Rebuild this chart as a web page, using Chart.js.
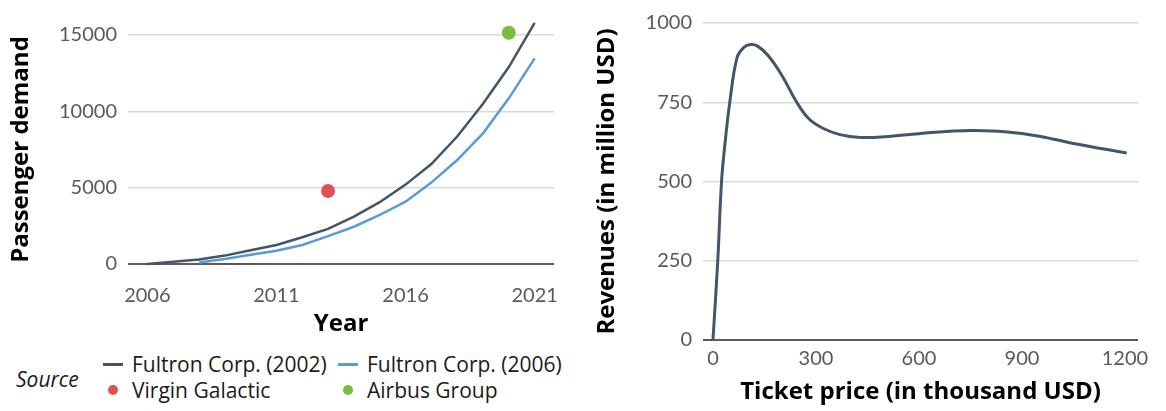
<!DOCTYPE html>
<html>
<head>
<meta charset="utf-8">
<script src="https://cdn.jsdelivr.net/npm/chart.js@4.4.1/dist/chart.umd.min.js"></script>
<style>
    body { margin: 0; background: #fff; font-family: "Open Sans", sans-serif; }
    #wrap { position: relative; width: 1166px; height: 411px; overflow: hidden; }
    #demand-chart { position: absolute; left: 0; top: 0; }
    #revenue-chart { position: absolute; left: 580px; top: 0; }
    #source { position: absolute; left: 16px; top: 366px; font-size: 21px; line-height: 26px; font-style: italic; color: #1a1a1a; }
    #demand-legend {
        position: absolute; left: 103px; top: 351px;
        display: grid; grid-template-columns: 235px auto; grid-auto-rows: 26px;
        font-size: 21px; color: #1a1a1a;
    }
    .legend-item { display: flex; align-items: center; white-space: nowrap; }
    .legend-mark { width: 20px; display: flex; justify-content: center; margin-right: 9px; }
    .legend-line { width: 20px; height: 3px; }
    .legend-dot { width: 10px; height: 10px; border-radius: 50%; }
</style>
</head>
<body>
<div id="wrap">
    <canvas id="demand-chart" width="580" height="345"></canvas>
    <div id="source">Source</div>
    <div id="demand-legend"></div>
    <canvas id="revenue-chart" width="586" height="411"></canvas>
</div>
<script>
// 数据: 左图 (乘客需求)
const years2002 = [2006, 2007, 2008, 2009, 2010, 2011, 2012, 2013, 2014, 2015, 2016, 2017, 2018, 2019, 2020, 2021];
const demand2002 = [0, 150, 300, 550, 900, 1250, 1750, 2300, 3100, 4050, 5200, 6550, 8350, 10500, 12900, 15800];
const years2006 = [2008, 2009, 2010, 2011, 2012, 2013, 2014, 2015, 2016, 2017, 2018, 2019, 2020, 2021];
const demand2006 = [100, 330, 600, 870, 1245, 1830, 2440, 3210, 4080, 5330, 6810, 8560, 10850, 13470];
const virginYear = [2013];
const virginDemand = [4780];
const airbusYear = [2020];
const airbusDemand = [15150];
const yearTicks = [2006, 2011, 2016, 2021];
const demandTicks = [0, 5000, 10000, 15000];

// 数据: 右图 (票价与收入)
const ticketPrice = [0, 14, 25, 35, 49, 70, 90, 110, 130, 160, 200, 244, 280, 320, 370, 430, 500, 600, 700, 760, 850, 950, 1050, 1205];
const revenue = [0, 250, 500, 619, 750, 890, 923, 932, 927, 898, 836, 750, 697, 668, 648, 639, 641, 651, 659, 661, 657, 643, 620, 590];
const priceTicks = [0, 300, 600, 900, 1200];
const revenueTicks = [0, 250, 500, 750, 1000];

// 样式
const TICK_FONT_FAMILY = 'Lato, sans-serif';
const TITLE_FONT_FAMILY = '"Open Sans", sans-serif';
const TICK_COLOR = '#595959';
const GRID_COLOR = '#d9d9d9';
const ZERO_COLOR = '#595959';
const DARK = '#44546a';
const BLUE = '#5b9bd5';
const RED = '#e05252';
const GREEN = '#7cbd3c';

function toPoints(xs, ys) {
    return xs.map((x, i) => ({ x: x, y: ys[i] }));
}

// 固定刻度
function fixedTicks(values) {
    return scale => { scale.ticks = values.map(v => ({ value: v })); };
}

// 网格: 零线加深
function gridStyle() {
    return {
        drawTicks: false,
        color: ctx => ctx.tick && ctx.tick.value === 0 ? ZERO_COLOR : GRID_COLOR,
        lineWidth: ctx => ctx.tick && ctx.tick.value === 0 ? 2 : 1.5
    };
}

const tickFont = { family: TICK_FONT_FAMILY, size: 20 };
const titleFont = { family: TITLE_FONT_FAMILY, size: 24, weight: 'bold' };

// 左图数据集
const demandDatasets = [
    {
        label: 'Fultron Corp. (2002)',
        data: toPoints(years2002, demand2002),
        borderColor: DARK, backgroundColor: DARK,
        borderWidth: 2.5, pointRadius: 0, tension: 0
    },
    {
        label: 'Fultron Corp. (2006)',
        data: toPoints(years2006, demand2006),
        borderColor: BLUE, backgroundColor: BLUE,
        borderWidth: 2.5, pointRadius: 0, tension: 0
    },
    {
        label: 'Virgin Galactic',
        data: toPoints(virginYear, virginDemand),
        showLine: false, pointRadius: 7, borderWidth: 0,
        backgroundColor: RED, borderColor: RED
    },
    {
        label: 'Airbus Group',
        data: toPoints(airbusYear, airbusDemand),
        showLine: false, pointRadius: 7, borderWidth: 0,
        backgroundColor: GREEN, borderColor: GREEN
    }
];

new Chart(document.getElementById('demand-chart').getContext('2d'), {
    type: 'line',
    data: { datasets: demandDatasets },
    options: {
        responsive: false,
        animation: false,
        clip: false,
        layout: { padding: { top: 35, right: 26, bottom: 0, left: 0 } },
        plugins: { legend: { display: false }, tooltip: { enabled: false } },
        scales: {
            x: {
                type: 'linear', min: 2005.25, max: 2021.75,
                afterBuildTicks: fixedTicks(yearTicks),
                afterFit: s => { s.height = 81; },
                grid: { display: false, drawTicks: false },
                border: { display: false },
                ticks: { padding: 20, color: TICK_COLOR, font: tickFont, maxRotation: 0, callback: v => String(v) },
                title: { display: true, text: 'Year', color: '#000', font: titleFont, padding: { top: 0, bottom: 6 } }
            },
            y: {
                type: 'linear', min: 0, max: 15000,
                afterBuildTicks: fixedTicks(demandTicks),
                afterFit: s => { s.width = 128; },
                grid: gridStyle(),
                border: { display: false },
                ticks: { padding: 11, color: TICK_COLOR, font: tickFont, callback: v => String(v) },
                title: { display: true, text: 'Passenger demand', color: '#000', font: titleFont, padding: { top: 7, bottom: 0 } }
            }
        }
    }
});

// 图例
function renderLegend() {
    const container = document.getElementById('demand-legend');
    container.innerHTML = '';
    demandDatasets.forEach(ds => {
        const div = document.createElement('div');
        div.className = 'legend-item';
        const mark = ds.showLine === false
            ? `<div class="legend-dot" style="background:${ds.backgroundColor}"></div>`
            : `<div class="legend-line" style="background:${ds.borderColor}"></div>`;
        div.innerHTML = `<div class="legend-mark">${mark}</div><span>${ds.label}</span>`;
        container.appendChild(div);
    });
}
renderLegend();

// 右图
new Chart(document.getElementById('revenue-chart').getContext('2d'), {
    type: 'line',
    data: {
        datasets: [{
            label: 'Revenues',
            data: toPoints(ticketPrice, revenue),
            borderColor: DARK,
            borderWidth: 3,
            pointRadius: 0,
            tension: 0.4
        }]
    },
    options: {
        responsive: false,
        animation: false,
        layout: { padding: { top: 17, right: 28, bottom: 0, left: 0 } },
        plugins: { legend: { display: false }, tooltip: { enabled: false } },
        scales: {
            x: {
                type: 'linear', min: -29, max: 1238,
                afterBuildTicks: fixedTicks(priceTicks),
                afterFit: s => { s.height = 71; },
                grid: { display: false, drawTicks: false },
                border: { display: false },
                ticks: { padding: 7, color: TICK_COLOR, font: tickFont, maxRotation: 0, callback: v => String(v) },
                title: { display: true, text: 'Ticket price (in thousand USD)', color: '#000', font: titleFont, padding: { top: 0, bottom: 4 } }
            },
            y: {
                type: 'linear', min: 0, max: 1000,
                afterBuildTicks: fixedTicks(revenueTicks),
                afterFit: s => { s.width = 123; },
                grid: gridStyle(),
                border: { display: false },
                ticks: { padding: 11, color: TICK_COLOR, font: tickFont, callback: v => String(v) },
                title: { display: true, text: 'Revenues (in million USD)', color: '#000', font: titleFont, padding: { top: 13, bottom: 0 } }
            }
        }
    }
});
</script>
</body>
</html>
